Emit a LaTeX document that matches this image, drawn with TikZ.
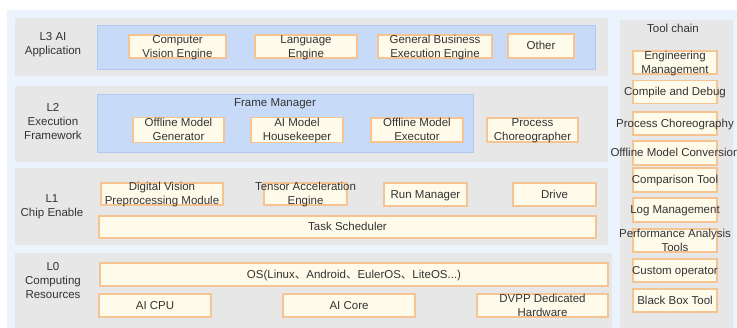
\documentclass[tikz,border=0pt]{standalone}
\usepackage{fontspec}
\setmainfont{Liberation Sans}
\newfontfamily\cjk{Noto Sans CJK SC}
\definecolor{fond}{HTML}{EBF3FC}
\definecolor{gris}{HTML}{E7E7E7}
\definecolor{bleu}{HTML}{C7DBF8}
\definecolor{bleubord}{HTML}{AFC9F0}
\definecolor{creme}{HTML}{FFFBEA}
\definecolor{orange}{HTML}{F6C392}
\definecolor{texte}{HTML}{333333}
\newcommand{\ctxt}[1]{\raisebox{-0.72em}{\smash{\makebox[0pt]{\begin{tabular}{@{}c@{}}#1\end{tabular}}}}}
\newcommand{\vg}{{\cjk 、}}

\begin{document}
\begin{tikzpicture}[x=1pt, y=-1pt]
\tikzset{couche/.style={fill=gris},
  moteur/.style={draw=bleubord, fill=bleu, line width=0.8pt},
  unit/.style={draw=orange, fill=creme, line width=1.2pt, inner sep=0pt, minimum height=23pt},
  tool/.style={unit, minimum width=84pt},
  titre/.style={inner sep=0pt}}
\useasboundingbox (0,0) rectangle (737,328);
\begin{scope}[every node/.style={text=texte, font=\fontsize{11.5}{14}\selectfont}]
\fill[fond] (7,10) rectangle (737,328);
\fill[couche] (15,18) rectangle (608,76);
\fill[couche] (15,86) rectangle (608,162);
\fill[couche] (15,168) rectangle (608,245);
\fill[couche] (15,253) rectangle (612,328);
\fill[couche] (620,20) rectangle (733,328);
\draw[moteur] (97,25) rectangle (595,69);
\draw[moteur] (97,94) rectangle (473,152);
% layer titles
\node[titre] (L3) at (53,43.5) {\ctxt{L3 AI\\Application}};
\node[titre] (L2) at (53,122) {\ctxt{L2\\Execution\\Framework}};
\node[titre] (L1) at (52,205.5) {\ctxt{L1\\Chip Enable}};
\node[titre] (L0) at (53,281) {\ctxt{L0\\Computing\\Resources}};
% L3
\node[unit, minimum width=97pt] (cve) at (177.5,46.5) {\ctxt{Computer\\Vision Engine}};
\node[unit, minimum width=102pt] (lang) at (306,46.5) {\ctxt{Language\\Engine}};
\node[unit, minimum width=114pt] (gbe) at (435,46.5) {\ctxt{General Business\\Execution Engine}};
\node[unit, minimum width=66pt, minimum height=24pt] (other) at (541,46) {\ctxt{Other}};
% L2
\node[titre] (fm) at (275,103) {\ctxt{Frame Manager}};
\node[unit, minimum width=91pt, minimum height=25pt] (omg) at (178.5,130) {\ctxt{Offline Model\\Generator}};
\node[unit, minimum width=92pt, minimum height=25pt] (amh) at (297,130) {\ctxt{AI Model\\Housekeeper}};
\node[unit, minimum width=92pt, minimum height=24pt] (ome) at (417,130) {\ctxt{Offline Model\\Executor}};
\node[unit, minimum width=91pt, minimum height=24pt] (pc) at (532.5,130) {\ctxt{Process\\Choreographer}};
% L1
\node[unit, minimum width=122pt, minimum height=22pt] (dvpm) at (162,194) {\ctxt{Digital Vision\\Preprocessing Module}};
\node[unit, minimum width=83pt, minimum height=22pt] (tae) at (305.5,194) {\ctxt{Tensor Acceleration\\Engine}};
\node[unit, minimum width=83pt] (rm) at (425.5,194.5) {\ctxt{Run Manager}};
\node[unit, minimum width=83pt] (drv) at (554.5,194.5) {\ctxt{Drive}};
\node[unit, minimum width=497pt, minimum height=22pt] (ts) at (347.5,227) {\ctxt{Task Scheduler}};
% L0
\node[unit, minimum width=508pt] (os) at (354,274.5) {\ctxt{OS(Linux\vg Android\vg EulerOS\vg LiteOS...)}};
\node[unit, minimum width=112pt] (cpu) at (155,305.5) {\ctxt{AI CPU}};
\node[unit, minimum width=132pt] (core) at (349,305.5) {\ctxt{AI Core}};
\node[unit, minimum width=131pt] (dvpp) at (542.5,305.5) {\ctxt{DVPP Dedicated\\Hardware}};
% tool chain
\node[titre] (tc) at (673,29) {\ctxt{Tool chain}};
\node[tool] (em) at (675,62.5) {\ctxt{Engineering\\Management}};
\node[tool] (cd) at (675,92) {\ctxt{Compile and Debug}};
\node[tool] (pco) at (675,123.5) {\ctxt{Process Choreography}};
\node[tool, minimum height=24pt] (omc) at (675,153) {\ctxt{Offline Model Conversion}};
\node[tool, minimum height=24pt] (ct) at (675,180) {\ctxt{Comparison Tool}};
\node[tool, minimum height=24pt] (lm) at (675,210) {\ctxt{Log Management}};
\node[tool] (pat) at (675,240.5) {\ctxt{Performance Analysis\\Tools}};
\node[tool] (co) at (675,270.5) {\ctxt{Custom operator}};
\node[tool] (bbt) at (675,300.5) {\ctxt{Black Box Tool}};
\end{scope}
\end{tikzpicture}
\end{document}
